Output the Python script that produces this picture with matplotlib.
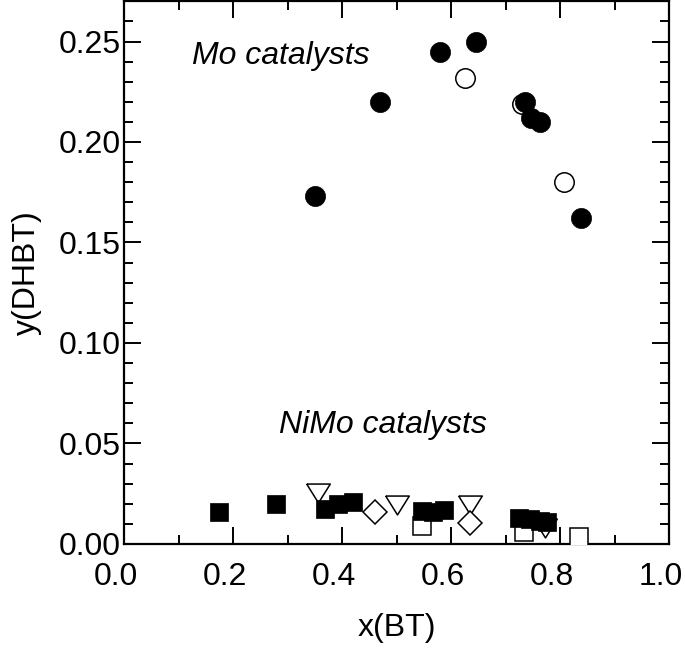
import matplotlib
matplotlib.use("Agg")
import matplotlib.pyplot as plt
import matplotlib.transforms as mtransforms
from matplotlib.ticker import MultipleLocator

plt.rcParams['font.family'] = ['Liberation Sans', 'DejaVu Sans']

# Mo catalysts
mo_filled_x = [0.35, 0.470, 0.580, 0.646, 0.736, 0.746, 0.763, 0.838]
mo_filled_y = [0.173, 0.220, 0.245, 0.250, 0.220, 0.212, 0.210, 0.162]
mo_open_x = [0.626, 0.730, 0.807]
mo_open_y = [0.232, 0.219, 0.180]

# NiMo catalysts
nimo_sq_x = [0.175, 0.278, 0.368, 0.392, 0.42, 0.547, 0.566, 0.586, 0.725, 0.745, 0.763, 0.776]
nimo_sq_y = [0.0158, 0.020, 0.0175, 0.0198, 0.0207, 0.0163, 0.016, 0.0169, 0.013, 0.0122, 0.0114, 0.011]
nimo_osq_x = [0.546, 0.733, 0.835]
nimo_osq_y = [0.0088, 0.0061, 0.0036]
nimo_tri_x = [0.355, 0.500, 0.635, 0.772]
nimo_tri_y = [0.0255, 0.0194, 0.0194, 0.008]
nimo_dia_x = [0.46, 0.634]
nimo_dia_y = [0.016, 0.0106]

tri = [(-1, 0.8), (1, 0.8), (0, -0.8), (-1, 0.8)]

fig = plt.figure(figsize=(6.85, 6.53), dpi=100)
ax = fig.add_axes([0.181, 0.167, 0.796, 0.831])

ax.plot(nimo_tri_x, nimo_tri_y, ls='none', marker=tri, ms=17, mfc='white', mec='black', mew=1.1, zorder=3)
ax.plot(nimo_dia_x, nimo_dia_y, ls='none', marker='D', ms=12.5, mfc='white', mec='black', mew=1.1, zorder=3)
ax.plot(nimo_osq_x, nimo_osq_y, ls='none', marker='s', ms=12.5, mfc='white', mec='black', mew=1.1, zorder=3)
ax.plot(nimo_sq_x, nimo_sq_y, ls='none', marker='s', ms=13, mfc='black', mec='black', mew=0.5, zorder=4)

ax.plot(mo_open_x, mo_open_y, ls='none', marker='o', ms=14, mfc='white', mec='black', mew=1.1, zorder=3)
ax.plot(mo_filled_x, mo_filled_y, ls='none', marker='o', ms=14.5, mfc='black', mec='black', mew=0.5, zorder=4)

ax.text(0.125, 0.239, 'Mo catalysts', fontsize=23, style='italic')
ax.text(0.284, 0.055, 'NiMo catalysts', fontsize=23, style='italic')

ax.set_xlim(0, 1.0)
ax.set_ylim(0, 0.27)
ax.xaxis.set_major_locator(MultipleLocator(0.2))
ax.xaxis.set_minor_locator(MultipleLocator(0.1))
ax.yaxis.set_major_locator(MultipleLocator(0.05))
ax.yaxis.set_minor_locator(MultipleLocator(0.01))
ax.xaxis.set_major_formatter(plt.FormatStrFormatter('%.1f'))
ax.yaxis.set_major_formatter(plt.FormatStrFormatter('%.2f'))

ax.tick_params(which='both', direction='in', top=True, right=True, width=1.4, labelsize=23)
ax.tick_params(which='major', length=12)
ax.tick_params(which='minor', length=6.5)
ax.tick_params(axis='x', which='major', pad=13)
ax.tick_params(axis='y', which='major', pad=2.5)
for s in ax.spines.values():
    s.set_linewidth(1.6)

ax.set_xlabel('x(BT)', fontsize=23, labelpad=15)
ax.set_ylabel('y(DHBT)', fontsize=23, labelpad=12)

# x tick labels sit a little left of their ticks in the original
fig.canvas.draw()
shift = mtransforms.ScaledTranslation(-8 / 100, 0, fig.dpi_scale_trans)
for t in ax.xaxis.get_major_ticks():
    t.label1.set_transform(t.label1.get_transform() + shift)

fig.savefig('out.png', dpi=100)
